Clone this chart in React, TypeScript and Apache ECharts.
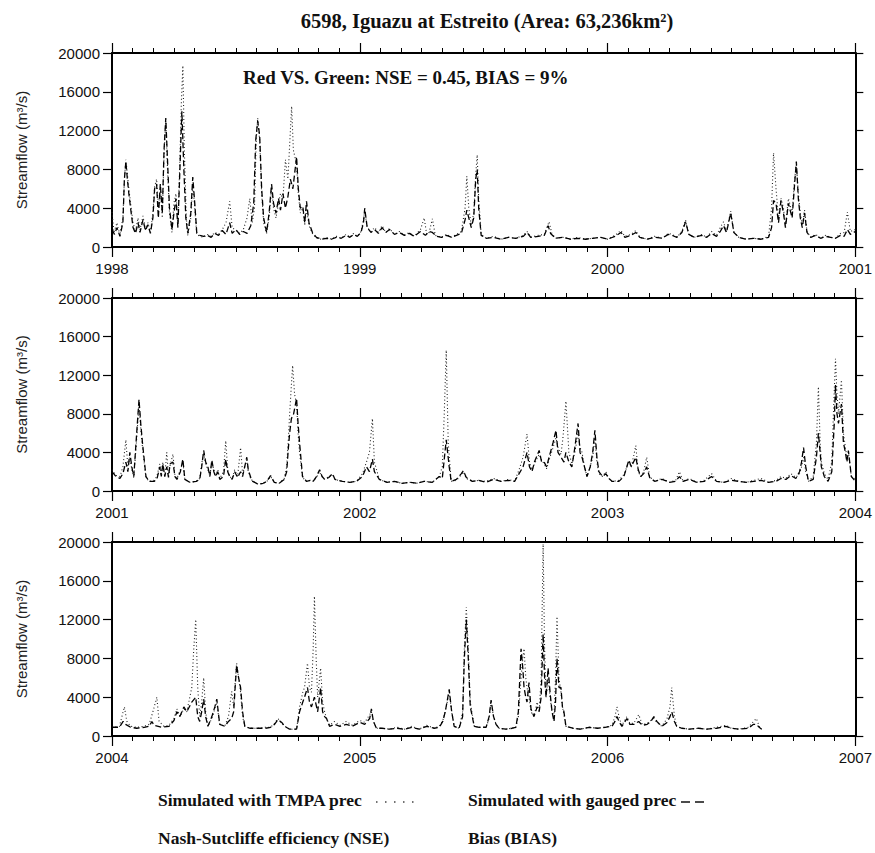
import React, { useEffect, useRef } from "react";
import * as echarts from "echarts";

const TITLE = "6598, Iguazu at Estreito (Area: 63,236km²)";
const ANNOTATION = "Red VS. Green: NSE = 0.45, BIAS = 9%";
const Y_NAME = "Streamflow (m³/s)";
const LEGEND_TMPA = "Simulated with TMPA prec";
const LEGEND_GAUGED = "Simulated with gauged prec";
const LEGEND_NSE = "Nash-Sutcliffe efficiency (NSE)";
const LEGEND_BIAS = "Bias (BIAS)";

const PANEL_START_YEARS = [1998, 2001, 2004];
const Y_MIN = 0;
const Y_MAX = 20000;
const Y_STEP = 4000;

// [years since panel start, streamflow m3/s]
const p1Gauged = [[0.000,1800],[0.010,1300],[0.020,2000],[0.032,1100],[0.044,2500],[0.050,7000],[0.056,8800],[0.062,7000],[0.068,5500],[0.075,4000],[0.085,2000],[0.095,1400],[0.105,2500],[0.113,1500],[0.125,2800],[0.135,1700],[0.145,2300],[0.155,1400],[0.165,3000],[0.172,6000],[0.180,6500],[0.187,3000],[0.195,6500],[0.203,3500],[0.210,10000],[0.217,13300],[0.224,9000],[0.232,4000],[0.242,1800],[0.250,3500],[0.258,5000],[0.266,2000],[0.274,8000],[0.282,14000],[0.290,8000],[0.298,3000],[0.306,1400],[0.318,3500],[0.326,7200],[0.334,4500],[0.342,1500],[0.355,1200],[0.370,1100],[0.385,1200],[0.400,1000],[0.415,1400],[0.430,1200],[0.445,1700],[0.460,1300],[0.475,2500],[0.485,1400],[0.500,1800],[0.515,1300],[0.530,1600],[0.545,1400],[0.560,2200],[0.572,4500],[0.580,11000],[0.588,13000],[0.596,11500],[0.604,6000],[0.612,3000],[0.624,1500],[0.634,3500],[0.644,6500],[0.652,4500],[0.662,3500],[0.672,5000],[0.680,3800],[0.690,5500],[0.700,4000],[0.710,5200],[0.720,7000],[0.730,6000],[0.745,9300],[0.752,6000],[0.760,4000],[0.770,4200],[0.778,2500],[0.785,4700],[0.795,2500],[0.809,1500],[0.825,1000],[0.845,800],[0.865,900],[0.885,800],[0.905,1000],[0.925,900],[0.945,1200],[0.960,1000],[0.975,1300],[0.990,1100],[1.005,1500],[1.015,2500],[1.020,4000],[1.030,2000],[1.045,1500],[1.060,1800],[1.075,1400],[1.090,2000],[1.105,1500],[1.120,1800],[1.140,1300],[1.160,1500],[1.180,1200],[1.200,1400],[1.220,1100],[1.245,1600],[1.265,1200],[1.280,1600],[1.293,1500],[1.310,1100],[1.330,1000],[1.350,1200],[1.370,1000],[1.390,1200],[1.410,1400],[1.425,2800],[1.432,3800],[1.440,3000],[1.450,2000],[1.460,3000],[1.468,7000],[1.474,8000],[1.480,4000],[1.490,1200],[1.510,900],[1.540,1000],[1.570,800],[1.600,1000],[1.630,900],[1.660,1100],[1.675,1500],[1.690,1000],[1.720,1100],[1.745,1200],[1.760,2200],[1.770,1400],[1.790,900],[1.820,1000],[1.850,800],[1.880,900],[1.910,800],[1.940,900],[1.970,1000],[2.000,800],[2.030,1100],[2.054,1500],[2.070,1000],[2.095,1200],[2.114,1500],[2.130,1000],[2.160,800],[2.190,1000],[2.220,900],[2.245,1300],[2.260,1200],[2.280,1000],[2.300,1500],[2.315,2600],[2.328,1300],[2.350,1000],[2.380,1200],[2.400,1000],[2.420,1400],[2.440,1100],[2.455,1600],[2.468,2200],[2.480,1500],[2.497,3500],[2.510,1500],[2.530,1000],[2.560,800],[2.590,900],[2.620,800],[2.650,1000],[2.662,2000],[2.670,4800],[2.680,4500],[2.690,2500],[2.700,4800],[2.710,3500],[2.718,2000],[2.730,4500],[2.745,3000],[2.755,6500],[2.762,8800],[2.770,5000],[2.778,3000],[2.786,2000],[2.795,3500],[2.805,1500],[2.820,1000],[2.840,1200],[2.860,900],[2.880,1100],[2.900,1000],[2.920,900],[2.940,1200],[2.955,1100],[2.968,1800],[2.980,1300],[3.000,1600]];

const p1Tmpa = [[0.000,3600],[0.008,1500],[0.020,2500],[0.032,1200],[0.044,3000],[0.050,7000],[0.056,9000],[0.062,7500],[0.068,6000],[0.075,4500],[0.085,2500],[0.095,1600],[0.105,3000],[0.113,1800],[0.125,3200],[0.135,1800],[0.145,2500],[0.155,1500],[0.165,3500],[0.172,6200],[0.180,7000],[0.187,4000],[0.195,6000],[0.203,3000],[0.210,9500],[0.217,13000],[0.224,8000],[0.232,3500],[0.242,1500],[0.250,4500],[0.258,5500],[0.266,2500],[0.274,9000],[0.280,15000],[0.286,18700],[0.292,10000],[0.300,3000],[0.306,1200],[0.318,3000],[0.326,6500],[0.334,4000],[0.342,1300],[0.355,1100],[0.370,1000],[0.385,1300],[0.400,1100],[0.415,1500],[0.430,1300],[0.445,1800],[0.460,2500],[0.475,4700],[0.485,2000],[0.500,1700],[0.515,1400],[0.530,1800],[0.545,3000],[0.556,5000],[0.566,2500],[0.575,4000],[0.582,11000],[0.588,13300],[0.596,11000],[0.604,5500],[0.612,2500],[0.624,1400],[0.634,3000],[0.644,6000],[0.652,4000],[0.662,3000],[0.672,4500],[0.680,5500],[0.690,5000],[0.700,9000],[0.710,7000],[0.718,11000],[0.725,14500],[0.732,10000],[0.745,8500],[0.752,5500],[0.760,3500],[0.770,4000],[0.778,2200],[0.785,4000],[0.795,2200],[0.809,1400],[0.825,900],[0.845,800],[0.865,1000],[0.885,800],[0.905,1100],[0.925,900],[0.945,1300],[0.960,1000],[0.975,1400],[0.990,1100],[1.005,1600],[1.015,2800],[1.020,3800],[1.030,2000],[1.045,1600],[1.060,2000],[1.075,1500],[1.090,2200],[1.105,1500],[1.120,1900],[1.140,1300],[1.160,1600],[1.180,1200],[1.200,1500],[1.220,1100],[1.245,1800],[1.260,3000],[1.270,1300],[1.280,1500],[1.293,2900],[1.305,1200],[1.330,1000],[1.350,1300],[1.370,1000],[1.390,1300],[1.410,1600],[1.425,4000],[1.432,7300],[1.440,4000],[1.450,2200],[1.460,3500],[1.468,7500],[1.474,9500],[1.480,5000],[1.490,1300],[1.510,900],[1.540,1100],[1.570,800],[1.600,1000],[1.630,900],[1.660,1200],[1.675,1600],[1.690,1000],[1.720,1200],[1.745,1300],[1.764,2600],[1.775,1400],[1.790,900],[1.820,1000],[1.850,800],[1.880,1000],[1.910,800],[1.940,900],[1.970,1000],[2.000,800],[2.030,1200],[2.054,1700],[2.070,1100],[2.095,1300],[2.114,1700],[2.130,1000],[2.160,800],[2.190,1100],[2.220,900],[2.245,1400],[2.260,1300],[2.280,1000],[2.300,1600],[2.315,2800],[2.328,1300],[2.350,1000],[2.380,1300],[2.400,1000],[2.420,1600],[2.440,1200],[2.455,2000],[2.468,2600],[2.480,1600],[2.497,3700],[2.510,1500],[2.530,1000],[2.560,800],[2.590,900],[2.620,800],[2.650,1100],[2.662,4000],[2.670,9700],[2.680,6000],[2.690,3000],[2.700,5000],[2.710,4000],[2.718,2200],[2.730,5000],[2.745,3500],[2.755,7000],[2.762,8500],[2.770,5500],[2.778,3500],[2.786,2200],[2.795,3800],[2.805,1600],[2.820,1000],[2.840,1300],[2.860,900],[2.880,1200],[2.900,1000],[2.920,900],[2.940,1400],[2.955,1500],[2.968,3600],[2.980,1600],[3.000,1800]];

const p2Gauged = [[0.000,2000],[0.016,1500],[0.032,1300],[0.044,1800],[0.056,3000],[0.064,2000],[0.072,4000],[0.080,2500],[0.088,1500],[0.097,5000],[0.105,8000],[0.109,9500],[0.116,7000],[0.123,5000],[0.137,1500],[0.150,1000],[0.170,1000],[0.181,1200],[0.193,2500],[0.199,1500],[0.205,2800],[0.213,1500],[0.221,2500],[0.228,1400],[0.234,2800],[0.246,3000],[0.254,1500],[0.262,1200],[0.276,2000],[0.286,3300],[0.294,1200],[0.314,900],[0.340,1000],[0.354,1200],[0.362,2500],[0.370,4200],[0.378,3000],[0.387,2500],[0.395,1500],[0.403,3200],[0.411,2000],[0.418,1500],[0.427,2000],[0.435,1200],[0.450,1500],[0.459,3300],[0.467,2000],[0.475,1500],[0.485,1200],[0.495,2000],[0.507,1400],[0.519,2000],[0.527,1500],[0.544,3500],[0.550,2200],[0.560,1400],[0.568,1000],[0.590,700],[0.610,800],[0.625,1000],[0.640,1600],[0.655,900],[0.675,800],[0.695,1200],[0.705,2000],[0.712,4500],[0.717,6000],[0.724,7500],[0.733,8000],[0.745,9600],[0.751,7000],[0.757,5000],[0.769,1500],[0.785,1000],[0.800,1100],[0.812,1000],[0.825,1500],[0.838,2200],[0.848,1500],[0.858,1200],[0.875,1400],[0.890,1800],[0.900,1200],[0.930,1000],[0.960,900],[0.987,1000],[1.011,1500],[1.027,2500],[1.039,2000],[1.051,3300],[1.059,2000],[1.079,1200],[1.110,900],[1.140,1000],[1.170,800],[1.200,900],[1.230,800],[1.260,1000],[1.293,900],[1.321,1500],[1.333,1300],[1.349,5300],[1.361,2500],[1.369,1000],[1.390,1200],[1.410,1800],[1.418,2100],[1.430,1400],[1.454,1000],[1.480,1100],[1.510,900],[1.540,1200],[1.570,1000],[1.600,1100],[1.625,1000],[1.643,1800],[1.659,2500],[1.675,4000],[1.685,2500],[1.695,2000],[1.705,3000],[1.724,4200],[1.734,3000],[1.744,3000],[1.754,2500],[1.764,3500],[1.780,5000],[1.792,6300],[1.800,4000],[1.812,3500],[1.824,3000],[1.832,4000],[1.844,3000],[1.856,2500],[1.868,4500],[1.881,7000],[1.889,4000],[1.897,3500],[1.907,2500],[1.917,1500],[1.930,2500],[1.940,4000],[1.949,6300],[1.957,3500],[1.965,2000],[1.980,1500],[1.993,1800],[2.005,1300],[2.018,1000],[2.046,1000],[2.066,1500],[2.086,3200],[2.096,2500],[2.114,3500],[2.124,2200],[2.134,1500],[2.146,1800],[2.158,2500],[2.170,1400],[2.190,1000],[2.220,1200],[2.250,900],[2.275,1000],[2.290,1500],[2.305,1000],[2.330,1200],[2.360,900],[2.390,1000],[2.420,1500],[2.440,1000],[2.470,900],[2.500,1100],[2.530,1000],[2.560,900],[2.590,1000],[2.620,1100],[2.650,900],[2.680,1000],[2.700,1300],[2.720,1200],[2.740,1600],[2.760,1300],[2.775,2000],[2.783,3000],[2.791,4500],[2.800,2500],[2.811,1000],[2.830,1200],[2.843,3500],[2.851,6000],[2.858,4000],[2.863,2500],[2.875,1500],[2.890,1000],[2.905,2000],[2.915,7000],[2.920,11000],[2.926,8000],[2.932,7000],[2.944,9000],[2.952,5000],[2.960,4000],[2.966,3000],[2.972,4200],[2.984,1500],[3.000,1000]];

const p2Tmpa = [[0.000,2200],[0.016,1600],[0.032,1500],[0.044,2500],[0.056,5300],[0.064,2500],[0.072,3500],[0.080,2200],[0.088,1400],[0.097,4500],[0.105,7500],[0.109,9000],[0.116,6500],[0.123,4500],[0.137,1400],[0.150,1000],[0.170,1100],[0.181,1500],[0.193,2800],[0.199,1600],[0.205,3000],[0.213,1600],[0.221,4000],[0.228,1500],[0.234,2600],[0.246,3800],[0.254,1600],[0.262,1300],[0.276,2200],[0.286,3000],[0.294,1200],[0.314,900],[0.340,1000],[0.354,1300],[0.362,2800],[0.370,4000],[0.378,2800],[0.387,2200],[0.395,1600],[0.403,3000],[0.411,2200],[0.418,1500],[0.427,2200],[0.435,1300],[0.450,2000],[0.459,5200],[0.467,2200],[0.475,1500],[0.485,1300],[0.495,2200],[0.507,1500],[0.519,4500],[0.527,1800],[0.544,3200],[0.550,2000],[0.560,1300],[0.568,1000],[0.590,700],[0.610,800],[0.625,1000],[0.640,1500],[0.655,900],[0.675,800],[0.695,1300],[0.705,2500],[0.712,5500],[0.717,8000],[0.724,11000],[0.729,13000],[0.737,10000],[0.745,9000],[0.751,6000],[0.757,4000],[0.769,1400],[0.785,1000],[0.800,1100],[0.812,1000],[0.825,1400],[0.838,2000],[0.848,1500],[0.858,1200],[0.875,1500],[0.890,1700],[0.900,1200],[0.930,1000],[0.960,900],[0.987,1000],[1.011,1800],[1.027,3000],[1.039,4000],[1.051,7500],[1.059,3000],[1.079,1200],[1.110,900],[1.140,1000],[1.170,800],[1.200,900],[1.230,800],[1.260,1000],[1.293,900],[1.321,1500],[1.333,2500],[1.341,8000],[1.349,14600],[1.357,5000],[1.369,1000],[1.390,1100],[1.410,1700],[1.418,2000],[1.430,1300],[1.454,1000],[1.480,1100],[1.510,1000],[1.540,1300],[1.570,1000],[1.600,1200],[1.625,1000],[1.643,2200],[1.659,3500],[1.675,5900],[1.685,3000],[1.695,2200],[1.705,2800],[1.724,3800],[1.734,3200],[1.744,2800],[1.754,2300],[1.764,3200],[1.780,4500],[1.792,5500],[1.800,4500],[1.812,3800],[1.820,5500],[1.832,9300],[1.844,4000],[1.856,2800],[1.868,4000],[1.881,6000],[1.889,4500],[1.897,4000],[1.907,2500],[1.917,1500],[1.930,2500],[1.940,3500],[1.949,5500],[1.957,3000],[1.965,1800],[1.980,1500],[1.993,2000],[2.005,1300],[2.018,1000],[2.046,1100],[2.066,1700],[2.086,3000],[2.096,2500],[2.114,4700],[2.124,2000],[2.134,1500],[2.146,2000],[2.158,3500],[2.170,1500],[2.190,1000],[2.220,1300],[2.250,900],[2.275,1100],[2.290,2000],[2.305,1000],[2.330,1300],[2.360,900],[2.390,1100],[2.420,1800],[2.440,1000],[2.470,900],[2.500,1300],[2.530,1000],[2.560,900],[2.590,1100],[2.620,1300],[2.650,900],[2.680,1100],[2.700,1500],[2.720,1300],[2.740,1800],[2.760,1400],[2.775,1800],[2.783,2500],[2.791,3500],[2.800,2000],[2.811,1000],[2.830,1500],[2.843,5000],[2.851,10800],[2.858,5000],[2.863,3000],[2.875,1800],[2.890,1200],[2.905,3000],[2.913,9000],[2.920,13700],[2.926,10000],[2.932,8000],[2.944,11500],[2.952,6000],[2.960,4500],[2.966,3500],[2.972,4000],[2.984,1500],[3.000,1200]];

const p3Gauged = [[0.000,900],[0.030,900],[0.045,1500],[0.055,1200],[0.075,900],[0.100,800],[0.130,900],[0.150,1000],[0.161,1500],[0.170,1100],[0.200,900],[0.230,1000],[0.250,1600],[0.262,2500],[0.274,2000],[0.290,3000],[0.302,2500],[0.322,3500],[0.338,4000],[0.346,2000],[0.354,1500],[0.362,2500],[0.370,3800],[0.378,2000],[0.387,1000],[0.403,2000],[0.415,3000],[0.423,3800],[0.431,2000],[0.435,1200],[0.455,1000],[0.470,1500],[0.483,1800],[0.491,2500],[0.497,5000],[0.503,7300],[0.511,6000],[0.519,5000],[0.527,2500],[0.536,1000],[0.556,800],[0.590,800],[0.620,800],[0.640,900],[0.656,1200],[0.670,1700],[0.685,1400],[0.697,1000],[0.717,700],[0.745,700],[0.757,2500],[0.770,3500],[0.777,4000],[0.789,5000],[0.797,3500],[0.805,3000],[0.817,4000],[0.830,2500],[0.842,5000],[0.850,2500],[0.858,2000],[0.866,1800],[0.878,1000],[0.898,1200],[0.920,1000],[0.945,1200],[0.970,1000],[1.000,1400],[1.020,1200],[1.040,1800],[1.047,2800],[1.055,1500],[1.067,800],[1.090,800],[1.120,700],[1.150,800],[1.180,700],[1.210,900],[1.240,700],[1.270,1000],[1.300,800],[1.321,900],[1.335,1500],[1.345,2500],[1.361,4800],[1.371,2500],[1.381,1000],[1.401,800],[1.415,2000],[1.422,8000],[1.430,12000],[1.438,8000],[1.446,3000],[1.462,1000],[1.482,900],[1.510,900],[1.522,2000],[1.530,3700],[1.540,2000],[1.550,1200],[1.562,800],[1.590,700],[1.615,800],[1.630,900],[1.640,2500],[1.651,9000],[1.658,7000],[1.663,5000],[1.670,4000],[1.675,3500],[1.683,5500],[1.691,2800],[1.703,2000],[1.716,3000],[1.724,2500],[1.732,4000],[1.740,10500],[1.746,6000],[1.752,4000],[1.760,7000],[1.768,4500],[1.776,2500],[1.784,1500],[1.790,3500],[1.796,8000],[1.804,5000],[1.812,5000],[1.818,3000],[1.824,2500],[1.832,1000],[1.860,800],[1.890,700],[1.925,900],[1.960,800],[1.990,900],[2.018,1000],[2.030,1500],[2.038,2000],[2.048,1400],[2.058,1000],[2.078,1800],[2.090,1200],[2.106,1200],[2.126,1500],[2.140,1100],[2.160,1200],[2.175,1500],[2.187,2000],[2.199,1500],[2.219,1000],[2.240,1400],[2.252,2000],[2.259,2500],[2.270,1500],[2.279,1000],[2.299,800],[2.330,700],[2.368,800],[2.400,700],[2.440,800],[2.477,1000],[2.500,800],[2.529,700],[2.569,800],[2.589,1200],[2.601,1200],[2.612,900],[2.622,700]];

const p3Tmpa = [[0.000,900],[0.030,1000],[0.040,2000],[0.050,3000],[0.060,1500],[0.075,1000],[0.100,900],[0.130,1000],[0.150,1200],[0.165,2500],[0.181,4000],[0.190,1500],[0.210,1000],[0.230,1100],[0.250,1800],[0.262,2800],[0.274,2000],[0.290,2800],[0.302,2500],[0.322,5000],[0.330,9000],[0.338,12000],[0.346,5000],[0.354,2000],[0.362,3500],[0.370,6000],[0.378,2500],[0.387,1000],[0.403,1800],[0.415,2800],[0.423,3500],[0.431,1800],[0.435,1200],[0.455,1000],[0.470,2000],[0.483,4600],[0.491,3000],[0.497,5500],[0.503,7500],[0.511,6000],[0.519,4500],[0.527,2000],[0.536,1000],[0.556,800],[0.590,800],[0.620,900],[0.640,900],[0.656,1300],[0.670,1800],[0.685,1300],[0.697,1000],[0.717,700],[0.745,700],[0.757,3000],[0.770,4500],[0.777,5000],[0.789,7500],[0.797,5000],[0.805,4500],[0.812,9000],[0.817,14400],[0.824,8000],[0.830,4000],[0.842,7000],[0.850,3500],[0.858,2500],[0.866,1800],[0.878,1100],[0.898,1500],[0.920,1100],[0.945,1500],[0.970,1100],[1.000,1600],[1.020,1400],[1.040,2200],[1.047,2500],[1.055,1500],[1.067,800],[1.090,800],[1.120,700],[1.150,900],[1.180,700],[1.210,1000],[1.240,700],[1.270,1100],[1.300,800],[1.321,1000],[1.335,1600],[1.345,2500],[1.361,4500],[1.371,2500],[1.381,1000],[1.401,800],[1.415,2500],[1.422,9000],[1.430,13300],[1.438,9000],[1.446,3500],[1.462,1000],[1.482,900],[1.510,900],[1.522,1800],[1.530,3500],[1.540,2000],[1.550,1200],[1.562,800],[1.590,700],[1.615,800],[1.630,900],[1.640,2000],[1.651,6000],[1.658,8000],[1.663,9000],[1.670,6000],[1.675,5000],[1.683,4000],[1.691,2500],[1.703,2000],[1.716,3500],[1.724,2500],[1.732,6000],[1.740,19800],[1.746,9000],[1.752,4000],[1.760,6000],[1.768,4000],[1.776,2500],[1.784,2000],[1.790,6000],[1.796,12300],[1.804,6000],[1.812,4500],[1.818,3000],[1.824,2200],[1.832,1000],[1.860,800],[1.890,700],[1.925,900],[1.960,800],[1.990,900],[2.018,1100],[2.030,2000],[2.038,3000],[2.048,1800],[2.058,1100],[2.078,2000],[2.090,1300],[2.106,1300],[2.126,2200],[2.140,1200],[2.160,1300],[2.175,1600],[2.187,1800],[2.199,1400],[2.219,1000],[2.240,1800],[2.252,3000],[2.259,5000],[2.270,2000],[2.279,1000],[2.299,800],[2.330,700],[2.368,800],[2.400,700],[2.440,900],[2.477,1100],[2.500,800],[2.529,700],[2.569,900],[2.589,1500],[2.601,1800],[2.612,1000],[2.622,700]];

const PANELS = [
  { tmpa: p1Tmpa, gauged: p1Gauged },
  { tmpa: p2Tmpa, gauged: p2Gauged },
  { tmpa: p3Tmpa, gauged: p3Gauged },
];

const SANS = "'Liberation Sans', Arial, Helvetica, sans-serif";
const SERIF = "'Liberation Serif', 'Times New Roman', serif";

export default function App() {
  const ref = useRef<HTMLDivElement>(null);

  useEffect(() => {
    if (!ref.current) return;
    const chart = echarts.init(ref.current, null, { renderer: "svg" });

    const gridBoxes = [
      { top: 53, height: 194 },
      { top: 298, height: 193 },
      { top: 542, height: 194 },
    ];

    const grid = gridBoxes.map((g) => ({
      left: 112,
      width: 745,
      top: g.top,
      height: g.height,
      containLabel: false,
    }));

    const axisLine = { show: true, onZero: false, lineStyle: { color: "#000", width: 2 } };

    const xAxis: any[] = [];
    const yAxis: any[] = [];
    PANEL_START_YEARS.forEach((start, i) => {
      const baseX = {
        type: "value",
        gridIndex: i,
        min: start,
        max: start + 3,
        interval: 1,
        axisLine,
        axisTick: { show: true, length: 10, lineStyle: { color: "#000", width: 1.2 } },
        minorTick: { show: true, splitNumber: 12, length: 5, lineStyle: { color: "#000", width: 1 } },
        splitLine: { show: false },
        minorSplitLine: { show: false },
      };
      xAxis.push({
        ...baseX,
        position: "bottom",
        axisLabel: {
          show: true,
          fontSize: 15,
          fontFamily: SANS,
          color: "#111",
          margin: 14,
          formatter: (v: number) => String(Math.round(v)),
        },
      });
      xAxis.push({ ...baseX, position: "top", axisLabel: { show: false } });

      const baseY = {
        type: "value",
        gridIndex: i,
        min: Y_MIN,
        max: Y_MAX,
        interval: Y_STEP,
        axisLine,
        splitLine: { show: false },
      };
      yAxis.push({
        ...baseY,
        position: "left",
        axisTick: { show: true, length: 9, lineStyle: { color: "#000", width: 1.2 } },
        axisLabel: {
          show: true,
          fontSize: 15,
          fontFamily: SANS,
          color: "#111",
          margin: 12,
          formatter: (v: number) => String(Math.round(v)),
        },
        name: Y_NAME,
        nameLocation: "middle",
        nameGap: 83,
        nameTextStyle: { fontSize: 15, fontFamily: SANS, color: "#222" },
      });
      yAxis.push({
        ...baseY,
        position: "right",
        axisTick: { show: true, length: 8, lineStyle: { color: "#000", width: 1.2 } },
        axisLabel: { show: false },
      });
    });

    const series: any[] = [];
    PANELS.forEach((p, i) => {
      const start = PANEL_START_YEARS[i];
      series.push({
        name: LEGEND_TMPA,
        type: "line",
        xAxisIndex: 2 * i,
        yAxisIndex: 2 * i,
        data: p.tmpa.map(([t, v]) => [start + t, v]),
        showSymbol: false,
        lineStyle: { color: "#222", width: 1.1, type: [1, 2.5] },
        z: 2,
      });
      series.push({
        name: LEGEND_GAUGED,
        type: "line",
        xAxisIndex: 2 * i,
        yAxisIndex: 2 * i,
        data: p.gauged.map(([t, v]) => [start + t, v]),
        showSymbol: false,
        lineStyle: { color: "#000", width: 1.3, type: [6, 3] },
        z: 3,
      });
    });

    const legendFont = `bold 17.5px ${SERIF}`;
    const graphic: any[] = [
      {
        type: "text",
        x: 487,
        y: 21,
        style: { text: TITLE, font: `bold 20.5px ${SERIF}`, fill: "#111", align: "center", verticalAlign: "middle" },
      },
      {
        type: "text",
        x: 243,
        y: 77,
        style: { text: ANNOTATION, font: `bold 19px ${SERIF}`, fill: "#111", align: "left", verticalAlign: "middle" },
      },
      {
        type: "text",
        x: 158,
        y: 800,
        style: { text: LEGEND_TMPA, font: legendFont, fill: "#111", align: "left", verticalAlign: "middle" },
      },
      {
        type: "line",
        shape: { x1: 376, y1: 802, x2: 420, y2: 802 },
        style: { stroke: "#444", lineWidth: 1.3, lineDash: [1.5, 7.5] },
      },
      {
        type: "text",
        x: 468,
        y: 800,
        style: { text: LEGEND_GAUGED, font: legendFont, fill: "#111", align: "left", verticalAlign: "middle" },
      },
      {
        type: "line",
        shape: { x1: 681, y1: 802, x2: 707, y2: 802 },
        style: { stroke: "#111", lineWidth: 1.3, lineDash: [9, 5] },
      },
      {
        type: "text",
        x: 158,
        y: 838,
        style: { text: LEGEND_NSE, font: legendFont, fill: "#111", align: "left", verticalAlign: "middle" },
      },
      {
        type: "text",
        x: 468,
        y: 838,
        style: { text: LEGEND_BIAS, font: legendFont, fill: "#111", align: "left", verticalAlign: "middle" },
      },
    ];

    chart.setOption({
      animation: false,
      backgroundColor: "#fff",
      grid,
      xAxis,
      yAxis,
      series,
      graphic,
    });

    return () => chart.dispose();
  }, []);

  return (
    <div
      ref={ref}
      style={{ position: "fixed", left: 0, top: 0, width: 875, height: 853, background: "#fff" }}
    />
  );
}
